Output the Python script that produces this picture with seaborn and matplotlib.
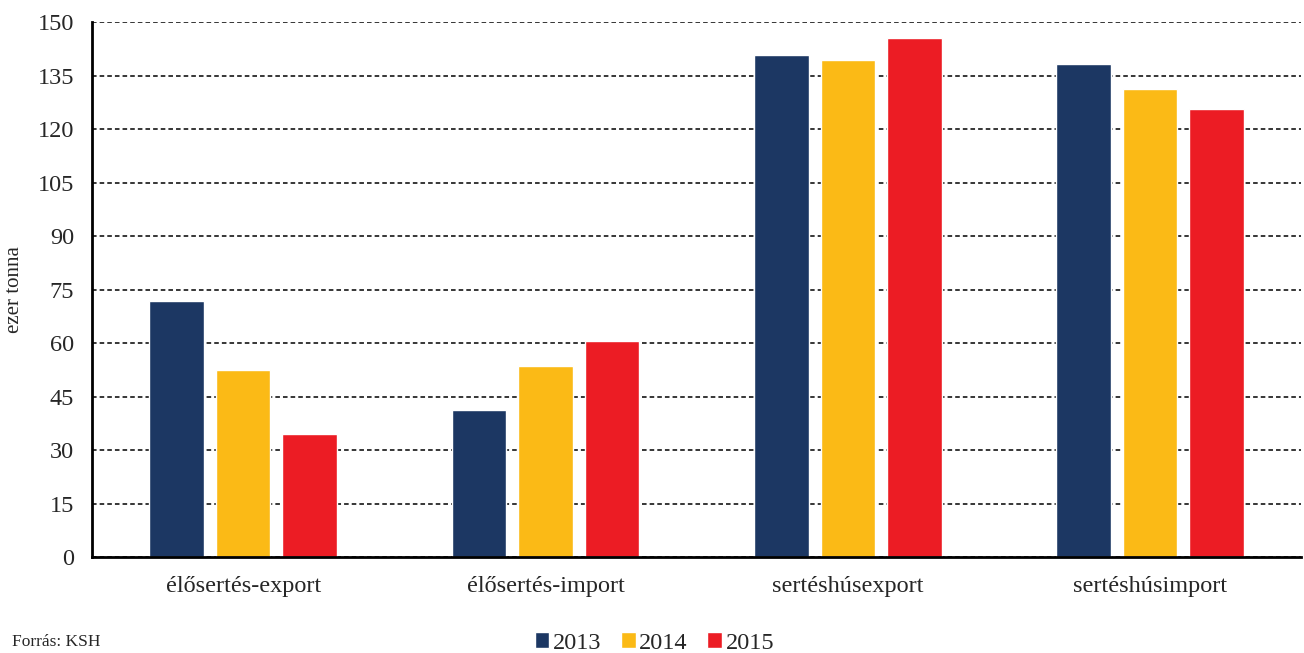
import matplotlib
matplotlib.use("Agg")
import matplotlib.pyplot as plt
import numpy as np
import pandas as pd
import seaborn as sns

categories = ["élősertés-export", "élősertés-import", "sertéshúsexport", "sertéshúsimport"]
years = ["2013", "2014", "2015"]
values_2013 = [71.8, 41.2, 140.7, 138.4]
values_2014 = [52.4, 53.5, 139.3, 131.3]
values_2015 = [34.5, 60.6, 145.5, 125.6]
y_ticks = [0, 15, 30, 45, 60, 75, 90, 105, 120, 135, 150]
colors = ["#1c3763", "#fbba16", "#ec1c24"]

df = pd.DataFrame({
    "kategoria": categories * 3,
    "ev": [y for y in years for _ in categories],
    "ertek": values_2013 + values_2014 + values_2015,
})

sns.set_style("white")
plt.rcParams["font.family"] = ["Liberation Serif", "DejaVu Serif"]

fig = plt.figure(figsize=(13.04, 6.53), dpi=100)
ax = fig.add_axes([0.0706, 0.147, 0.9274, 0.819])

sns.barplot(data=df, x="kategoria", y="ertek", hue="ev", palette=colors,
            width=0.66, gap=0.18, saturation=1, ax=ax, legend=True)

ax.set_ylim(0, 150)
ax.set_xlim(-0.5, 3.5)
ax.set_yticks(y_ticks)
ax.yaxis.grid(True, linestyle=(0, (3, 2)), color="black", linewidth=1.1)
ax.set_axisbelow(True)

# category boundary ticks on x, labels in the middle
ax.set_xticks(np.arange(-0.5, 4.0, 1.0), minor=True)
ax.tick_params(axis="x", which="major", length=0, labelsize=17.5, pad=14)
ax.tick_params(axis="x", which="minor", length=8, width=1.5, direction="out", color="black")
ax.tick_params(axis="y", length=8, width=1.5, direction="out", color="black", labelsize=17.5, pad=5)

for side in ["top", "right"]:
    ax.spines[side].set_visible(False)
for side in ["left", "bottom"]:
    ax.spines[side].set_color("black")
    ax.spines[side].set_linewidth(2)

ax.set_xlabel("")
ax.set_ylabel("ezer tonna", fontsize=15, labelpad=10)

ax.legend(loc="upper center", bbox_to_anchor=(0.465, -0.1), ncol=3, frameon=False,
          fontsize=17.5, handlelength=0.6, handleheight=0.6, handletextpad=0.15,
          columnspacing=0.8)

fig.text(0.009, 0.004, "Forrás: KSH", fontsize=12.5, ha="left", va="bottom")

fig.savefig("out.png", dpi=100)
plt.close(fig)
